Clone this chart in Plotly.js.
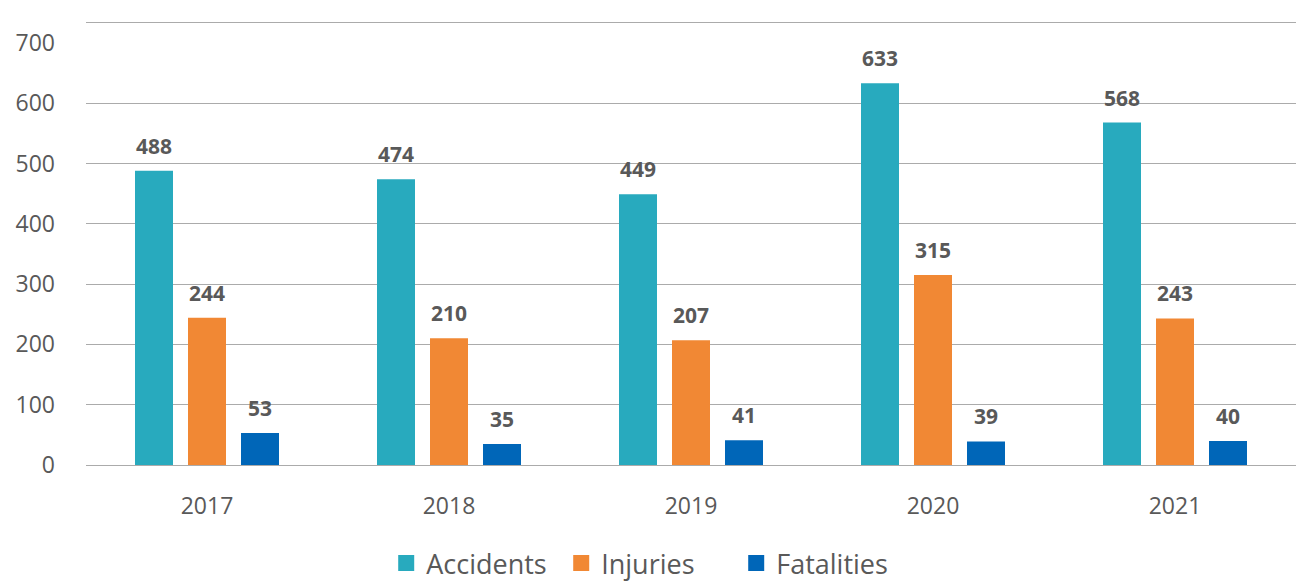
<!DOCTYPE html>
<html>
<head>
<meta charset="utf-8">
<script src="https://cdn.plot.ly/plotly-3.0.1.min.js"></script>
<style>html,body{margin:0;padding:0;background:#fff;}#chart{width:1296px;height:588px;}</style>
</head>
<body>
<div id="chart"></div>
<script>
const years = ['2017', '2018', '2019', '2020', '2021'];
const accidents = [488, 474, 449, 633, 568];
const injuries = [244, 210, 207, 315, 243];
const fatalities = [53, 35, 41, 39, 40];
const seriesNames = ['Accidents', 'Injuries', 'Fatalities'];
const seriesColors = ['#28aabe', '#f18834', '#0066b8'];
const yTicks = [0, 100, 200, 300, 400, 500, 600, 700];
const gridTicks = [0, 100, 200, 300, 400, 500, 600];

const seriesValues = [accidents, injuries, fatalities];
const labelColor = '#595959';
const gridColor = '#ababab';
const fontFamily = '"Open Sans", "Noto Sans", sans-serif';
const yRange = [0, 733];

const traces = seriesValues.map((vals, i) => ({
  type: 'bar',
  name: seriesNames[i],
  legendgroup: seriesNames[i],
  showlegend: false,
  x: years,
  y: vals,
  marker: {color: seriesColors[i], line: {width: 0}},
  hoverinfo: 'x+y+name'
}));
// legend proxies (larger square swatches); also carry the grid axis
seriesNames.forEach((n, i) => {
  traces.push({
    type: 'scatter', mode: 'markers', name: n, legendgroup: n,
    x: [null], y: [null], xaxis: 'x', yaxis: 'y2', showlegend: true,
    marker: {symbol: 'square', size: 20, color: seriesColors[i]},
    hoverinfo: 'skip'
  });
});

const shifts = [-53, 0, 53];
const annotations = [];
seriesValues.forEach((vals, i) => {
  vals.forEach((v, j) => {
    annotations.push({
      x: j, y: v, xref: 'x', yref: 'y',
      text: '<b>' + v + '</b>', showarrow: false,
      xanchor: 'center', yanchor: 'bottom',
      xshift: shifts[i], yshift: 9,
      font: {family: fontFamily, size: 21, color: labelColor}
    });
  });
});

const layout = {
  width: 1296, height: 588,
  margin: {l: 86, r: 0, t: 23, b: 123, pad: 0, autoexpand: false},
  paper_bgcolor: '#ffffff', plot_bgcolor: '#ffffff',
  barmode: 'group', bargap: 0.343, bargroupgap: 0.283,
  font: {family: fontFamily, color: labelColor},
  xaxis: {
    type: 'category', categoryarray: years, range: [-0.5, years.length - 0.5],
    showgrid: false, zeroline: false,
    showline: true, mirror: true, linecolor: gridColor, linewidth: 1,
    ticks: '', ticklabelstandoff: 20, automargin: false,
    tickfont: {family: fontFamily, size: 23, color: labelColor}
  },
  yaxis: {
    range: yRange, tickvals: yTicks, ticktext: yTicks.map(String),
    showgrid: false, zeroline: false, showline: false, ticks: '', ticklabelstandoff: 30,
    automargin: false,
    tickfont: {family: fontFamily, size: 23, color: labelColor}
  },
  yaxis2: {
    overlaying: 'y', side: 'left', range: yRange, tickvals: gridTicks,
    showgrid: true, gridcolor: gridColor, gridwidth: 1, automargin: false,
    showticklabels: false, zeroline: false, showline: false, ticks: ''
  },
  legend: {
    orientation: 'h', xref: 'container', yref: 'container',
    x: 0.298, xanchor: 'left', y: 0.0, yanchor: 'bottom',
    font: {family: fontFamily, size: 27, color: labelColor},
    entrywidthmode: 'pixels', entrywidth: 130, itemsizing: 'trace'
  },
  annotations: annotations,
  showlegend: true
};

Plotly.newPlot('chart', traces, layout, {displayModeBar: false, staticPlot: true});
</script>
</body>
</html>
